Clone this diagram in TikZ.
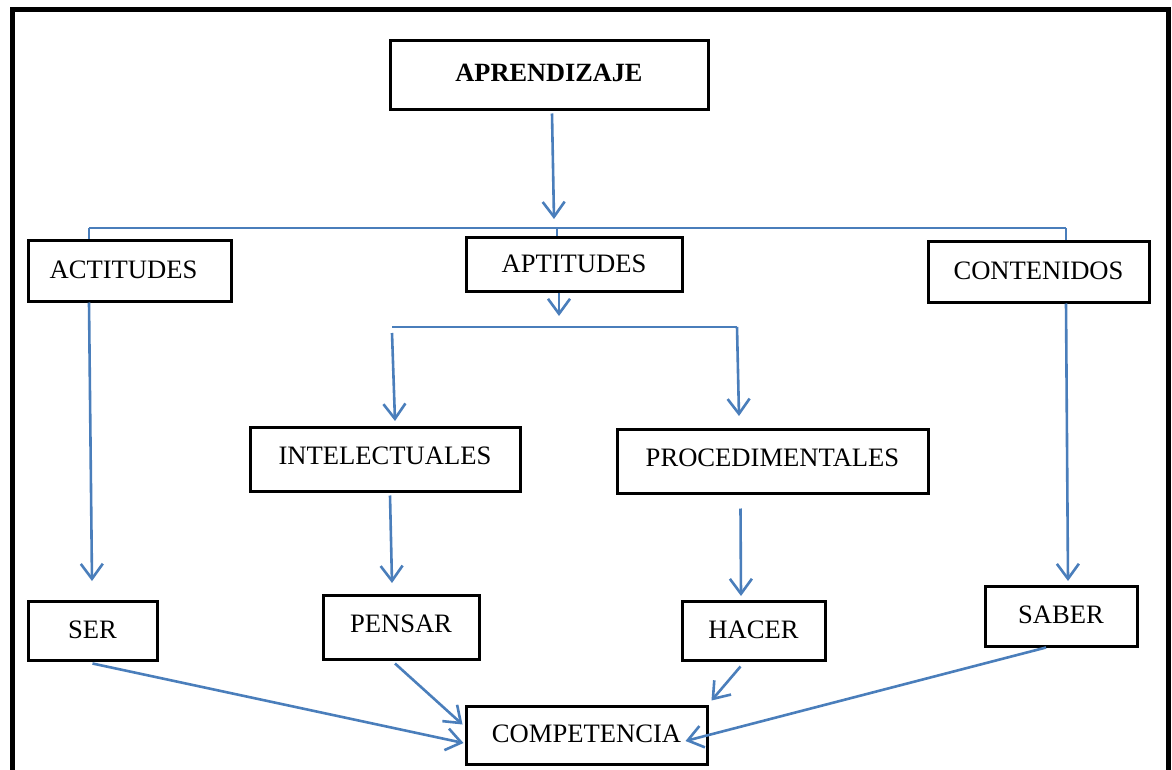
\documentclass[tikz,border=0pt]{standalone}
\usepackage{fontspec}
\setmainfont{Liberation Serif}
\usetikzlibrary{arrows.meta,calc}
\definecolor{lineblue}{HTML}{4A7EBB}
\newcommand{\up}[2]{\raisebox{#1pt}{#2}}
\begin{document}
\begin{tikzpicture}[x=1pt,y=-1pt,
  box/.style={draw=black,line width=3pt,fill=white,inner sep=0pt,font=\fontsize{26.6}{30}\selectfont},
  conn/.style={draw=lineblue,line width=2.6pt},
  arr/.style={conn,-{Straight Barb[length=15pt,width=22pt,line width=2.6pt]}}]
\useasboundingbox (0,0) rectangle (1172,770);
\fill[white] (0,0) rectangle (1172,770);
% frame
\draw[line width=5pt,black] (12,790) -- (12,10) -- (1168,10) -- (1168,790);
% boxes
\node[box,minimum width=318pt,minimum height=69pt,font=\fontsize{26.3}{30}\selectfont\bfseries] (apr) at (549,75.5) {\up{5}{APRENDIZAJE}};
\node[box,minimum width=203pt,minimum height=61pt] (act) at (129.5,270.5) {\up{2}{ACTITUDES}\hspace*{12pt}};
\node[box,minimum width=216pt,minimum height=54pt] (apt) at (574,264) {APTITUDES};
\node[box,minimum width=221pt,minimum height=61pt] (con) at (1038.5,271.5) {\up{1}{CONTENIDOS}};
\node[box,minimum width=270pt,minimum height=64pt] (int) at (385,459) {\up{6}{INTELECTUALES}};
\node[box,minimum width=311pt,minimum height=64pt] (pro) at (772.5,461) {\up{6}{PROCEDIMENTALES}};
\node[box,minimum width=129pt,minimum height=59pt] (ser) at (92.5,630.5) {\up{1}{SER}};
\node[box,minimum width=156pt,minimum height=64pt] (pen) at (401,627) {\up{6}{PENSAR}};
\node[box,minimum width=143pt,minimum height=59pt] (hac) at (753.5,630.5) {\up{1}{HACER}};
\node[box,minimum width=152pt,minimum height=60pt] (sab) at (1061,616) {\up{3}{SABER}};
\node[box,minimum width=241pt,minimum height=58pt] (com) at (586.5,735) {\up{2}{COMPETENCIA}};
% junction coordinates
\coordinate (bl) at (89,228);
\coordinate (bm) at (557,228);
\coordinate (br) at (1066,228);
\coordinate (t1) at (554,219);
\coordinate (cl) at (392,327);
\coordinate (cr) at (737,327);
\coordinate (t2) at (559,316);
\coordinate (tint) at (395,421);
\coordinate (tpro) at (739,416);
\coordinate (tser) at (92,581);
\coordinate (tsab) at (1068,581);
\coordinate (tpen) at (392,583);
\coordinate (thac) at (741,596);
% connectors
\draw[arr] ($(apr.south)+(3,2)$) -- (t1);
\draw[conn] (bl) -- (br);
\draw[conn] (bl) -- (bl |- act.north);
\draw[conn] (bm) -- (bm |- apt.north);
\draw[conn] (br) -- (br |- con.north);
\draw[arr] (act.south -| bl) -- (tser);
\draw[arr] (con.south -| br) -- (tsab);
\draw[arr] ($(apt.south)+(-15,0)$) -- (t2);
\draw[conn] (cl) -- (cr);
\draw[arr] ($(cl)+(0,6)$) -- (tint);
\draw[arr] (cr) -- (tpro);
\draw[arr] ($(int.south)+(5,3)$) -- (tpen);
\draw[arr] ($(pro.south)+(-32,14)$) -- (thac);
\draw[arr] ($(ser.south)+(0,2)$) -- ($(com.west)+(-1,8)$);
\draw[arr] ($(pen.south)+(-6,3)$) -- ($(com.north west)+(-2,20)$);
\draw[arr] ($(hac.south)+(-13,5)$) -- ($(com.north east)+(3,-4)$);
\draw[arr] ($(sab.south)+(-15,0)$) -- ($(com.east)+(-23,6)$);
\end{tikzpicture}
\end{document}
